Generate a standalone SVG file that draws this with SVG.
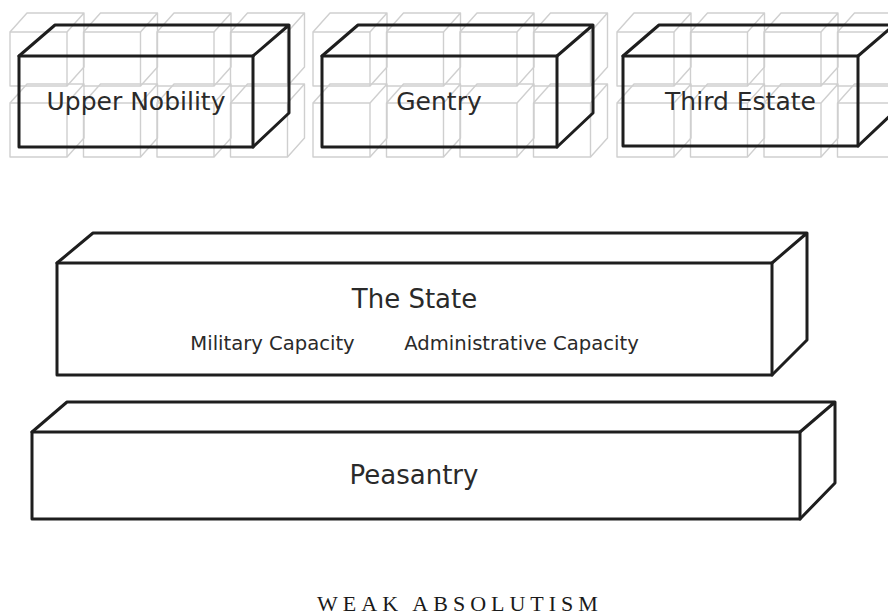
<svg xmlns="http://www.w3.org/2000/svg" xmlns:xlink="http://www.w3.org/1999/xlink" width="888" height="616" viewBox="0 0 888 616">
  <style>
    .bg { fill: none; stroke: #cfcfcf; stroke-width: 1.4; stroke-linejoin: round; }
    .box { fill: none; stroke: #1e1e1e; stroke-width: 3; stroke-linejoin: round; stroke-linecap: round; }
    .lbl { font-family: "DejaVu Sans", "Liberation Sans", sans-serif; fill: #2a2a2a; text-anchor: middle; }
    .big { font-size: 25px; }
    .mid { font-size: 26px; }
    .small { font-size: 19.6px; }
    .title { font-family: "Liberation Serif", "DejaVu Serif", serif; font-size: 22px; letter-spacing: 5px; fill: #1a1a1a; text-anchor: middle; }
  </style>
  <defs>
    <g id="cube">
      <rect class="bg" x="0" y="0" width="57" height="54"/>
      <path class="bg" d="M0,0 L17,-19 L74,-19 L57,0 M74,-19 L74,35 L57,54"/>
    </g>
    <g id="cubegrid">
      <use xlink:href="#cube" x="0" y="32"/>
      <use xlink:href="#cube" x="73.5" y="32"/>
      <use xlink:href="#cube" x="147" y="32"/>
      <use xlink:href="#cube" x="220.5" y="32"/>
      <use xlink:href="#cube" x="0" y="103"/>
      <use xlink:href="#cube" x="73.5" y="103"/>
      <use xlink:href="#cube" x="147" y="103"/>
      <use xlink:href="#cube" x="220.5" y="103"/>
    </g>
  </defs>
  <rect x="0" y="0" width="888" height="616" fill="#ffffff"/>

  <g id="background-cubes">
    <use xlink:href="#cubegrid" x="10" y="0"/>
    <use xlink:href="#cubegrid" x="313" y="0"/>
    <use xlink:href="#cubegrid" x="617" y="0"/>
  </g>

  <g id="connectors"></g>

  <g id="upper-nobility">
    <rect class="box" x="19" y="56" width="234" height="91"/>
    <path class="box" d="M19,56 L55,25 L289,25 L253,56 M289,25 L289,113 L253,147"/>
    <text class="lbl big" x="136" y="110">Upper Nobility</text>
  </g>

  <g id="gentry">
    <rect class="box" x="322" y="56" width="235" height="91"/>
    <path class="box" d="M322,56 L358,25 L593,25 L557,56 M593,25 L593,113 L557,147"/>
    <text class="lbl big" x="439" y="110">Gentry</text>
  </g>

  <g id="third-estate">
    <rect class="box" x="623" y="56" width="235" height="90"/>
    <path class="box" d="M623,56 L659,25 L894,25 L858,56 M894,25 L894,112 L858,146"/>
    <text class="lbl big" x="740.5" y="110">Third Estate</text>
  </g>

  <g id="the-state">
    <rect class="box" x="57" y="263" width="715" height="112"/>
    <path class="box" d="M57,263 L93,233 L807,233 L772,263 M807,233 L807,340 L772,375"/>
    <text class="lbl mid" x="414.5" y="308">The State</text>
    <text class="lbl small" x="272.5" y="350">Military Capacity</text>
    <text class="lbl small" x="521.5" y="350">Administrative Capacity</text>
  </g>

  <g id="peasantry">
    <rect class="box" x="32" y="432" width="768" height="87"/>
    <path class="box" d="M32,432 L67,402 L835,402 L800,432 M835,402 L835,483 L800,519"/>
    <text class="lbl mid" x="414" y="484">Peasantry</text>
  </g>

  <g id="caption">
    <text class="title" x="460" y="611">WEAK ABSOLUTISM</text>
  </g>
</svg>
